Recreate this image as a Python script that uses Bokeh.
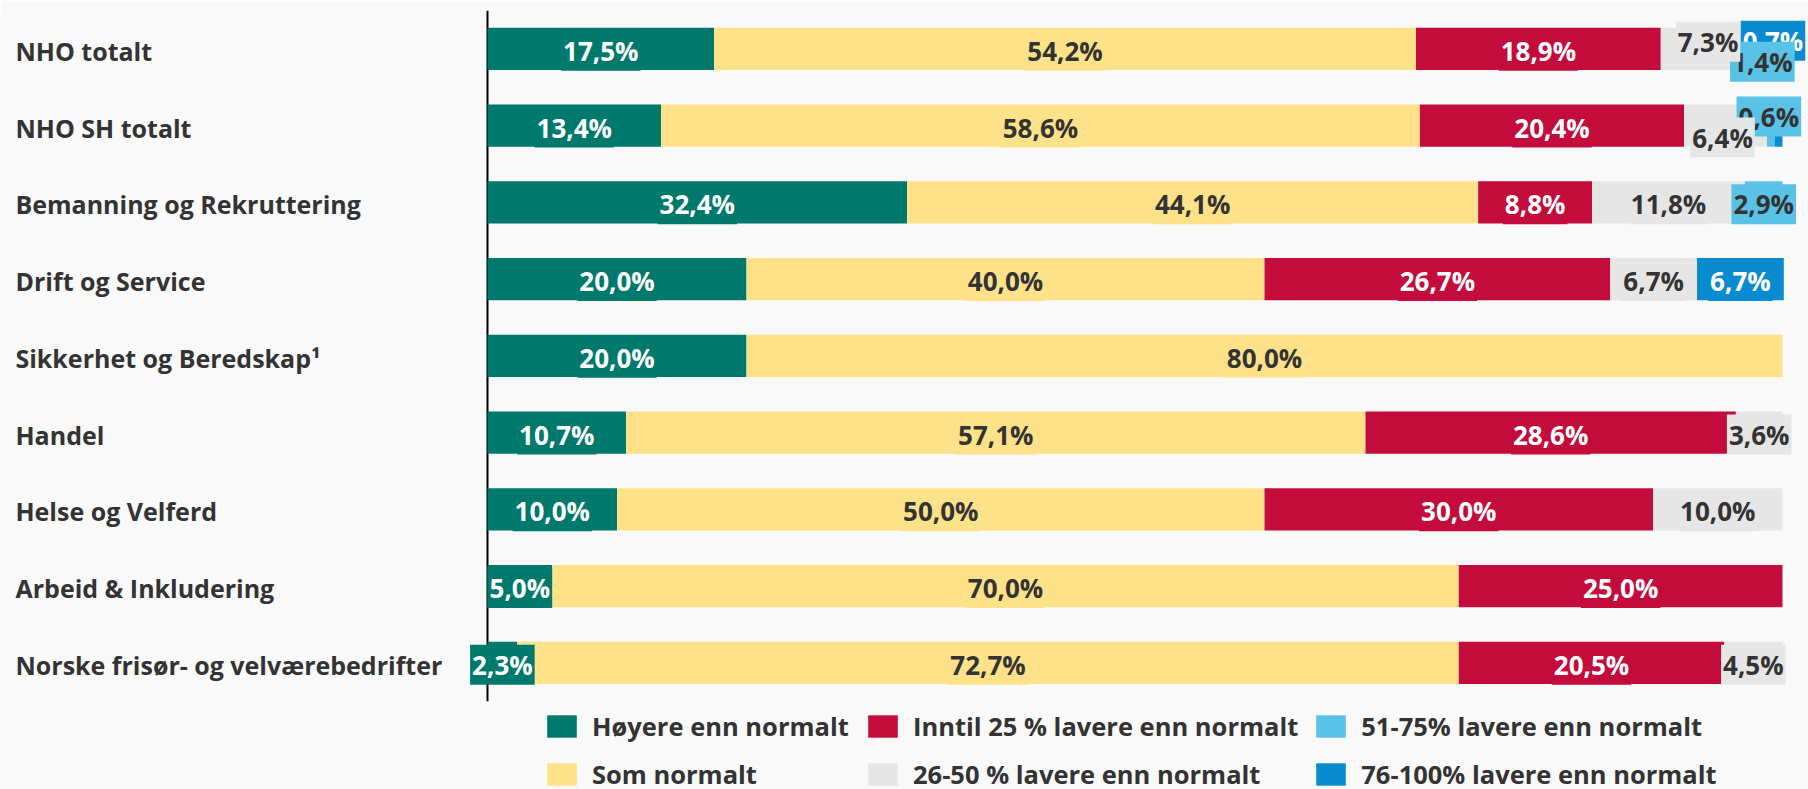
from bokeh.plotting import figure
from bokeh.models import ColumnDataSource, Legend, LegendItem, Range1d
from bokeh.core.properties import value
from bokeh.embed import file_html
from bokeh.resources import INLINE

categories = ["NHO totalt", "NHO SH totalt", "Bemanning og Rekruttering", "Drift og Service",
              "Sikkerhet og Beredskap\u00b9", "Handel", "Helse og Velferd", "Arbeid & Inkludering",
              "Norske fris\u00f8r- og velv\u00e6rebedrifter"]
hoyere = [17.5, 13.4, 32.4, 20.0, 20.0, 10.7, 10.0, 5.0, 2.3]
som_normalt = [54.2, 58.6, 44.1, 40.0, 80.0, 57.1, 50.0, 70.0, 72.7]
inntil_25 = [18.9, 20.4, 8.8, 26.7, 0.0, 28.6, 30.0, 25.0, 20.5]
lavere_26_50 = [7.3, 6.4, 11.8, 6.7, 0.0, 3.6, 10.0, 0.0, 4.5]
lavere_51_75 = [1.4, 0.6, 2.9, 0.0, 0.0, 0.0, 0.0, 0.0, 0.0]
lavere_76_100 = [0.7, 0.6, 0.0, 6.7, 0.0, 0.0, 0.0, 0.0, 0.0]

series_names = ["H\u00f8yere enn normalt", "Som normalt", "Inntil 25 % lavere enn normalt",
                "26-50 % lavere enn normalt", "51-75% lavere enn normalt", "76-100% lavere enn normalt"]
series_values = [hoyere, som_normalt, inntil_25, lavere_26_50, lavere_51_75, lavere_76_100]

# styling
colors = ["#00796D", "#FDE28A", "#C30C3C", "#E6E6E6", "#5BC2E7", "#0A8BCF"]
label_colors = ["#FFFFFF", "#333333", "#FFFFFF", "#333333", "#333333", "#FFFFFF"]
hidden_labels = {(1, 5)}
label_offsets = {(0, 3): (0, -9), (0, 4): (-2, 11), (0, 5): (-5, -10),
                 (1, 3): (-3, 10), (1, 4): (-2, -11)}
label_order = [0, 1, 2, 5, 4, 3]

FONT = value("Open Sans")
BG = "#F9F9F9"
TXT = "#333333"

n = len(categories)
ypos = [n - i - 0.5 for i in range(n)]   # category slots, top to bottom

keys = ["s%d" % i for i in range(6)]
data = {"cat": categories, "y": ypos}
for k, vals in zip(keys, series_values):
    data[k] = vals
source = ColumnDataSource(data)

p = figure(width=1808, height=789, output_backend="svg", toolbar_location=None,
           y_range=Range1d(-1.15, n), x_range=Range1d(-37.606, 102.008),
           min_border_left=0, min_border_right=0, min_border_top=10, min_border_bottom=0)
p.background_fill_color = BG
p.border_fill_color = BG
p.outline_line_color = None
p.grid.visible = False
p.xaxis.visible = False
p.yaxis.visible = False

# category axis line
p.segment(x0=0, y0=0, x1=0, y1=n, line_color="#000000", line_width=2)

renderers = p.hbar_stack(keys, y="y", height=0.55, color=colors, line_color=None, source=source)

# segment labels
for si in label_order:
    xs, ys, txt, dx, dy = [], [], [], [], []
    for ci, cat in enumerate(categories):
        v = series_values[si][ci]
        if v <= 0 or (ci, si) in hidden_labels:
            continue
        start = sum(series_values[j][ci] for j in range(si))
        xs.append(start + v / 2)
        ys.append(ypos[ci])
        txt.append(("%.1f%%" % v).replace(".", ","))
        ox, oy = label_offsets.get((ci, si), (0, 0))
        dx.append(ox)
        dy.append(oy + 2)
    if not xs:
        continue
    src = ColumnDataSource(dict(x=xs, y=ys, t=txt, dx=dx, dy=dy))
    p.text(x="x", y="y", text="t", source=src, x_offset="dx", y_offset="dy",
           text_align="center", text_baseline="middle", text_font=FONT,
           text_font_style="bold", text_font_size="26px", text_color=label_colors[si],
           background_fill_color=colors[si], padding=2)

# category labels, left aligned
cat_src = ColumnDataSource(dict(y=ypos, t=categories))
p.text(x=-36.45, y="y", text="t", source=cat_src, text_align="left", y_offset=2,
       text_baseline="middle", text_font=FONT, text_font_style="bold",
       text_font_size="25px", text_color=TXT)

legend = Legend(items=[LegendItem(label=nm, renderers=[r]) for nm, r in zip(series_names, renderers)],
                location=(543, -2), ncols=3, glyph_width=37, glyph_height=28, label_standoff=12,
                spacing=14, padding=0, margin=0, label_text_font="Open Sans", label_text_font_style="bold",
                label_text_font_size="25.5px", label_text_color=TXT, label_width=258,
                background_fill_alpha=0, border_line_color=None)
p.add_layout(legend)

open("out.html", "w").write(file_html(p, INLINE))
